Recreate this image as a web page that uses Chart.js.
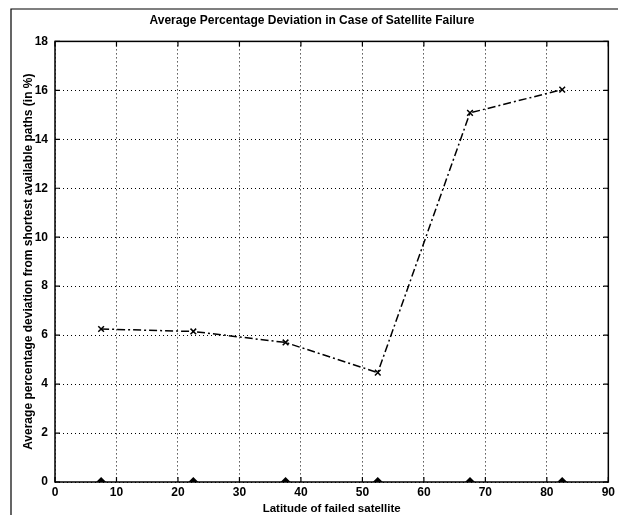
<!DOCTYPE html>
<html>
<head>
<meta charset="utf-8">
<script src="https://cdn.jsdelivr.net/npm/chart.js@4"></script>
<style>
  html, body { margin: 0; padding: 0; background: #fff; }
  #wrap { position: relative; width: 618px; height: 515px; }
</style>
</head>
<body>
<div id="wrap"><canvas id="myChart" width="618" height="515"></canvas></div>
<script>
const latitudes = [7.5, 22.5, 37.5, 52.5, 67.5, 82.5];
const deviation = [6.25, 6.15, 5.7, 4.47, 15.08, 16.03];
const baseline = [0, 0, 0, 0, 0, 0];
const xTicks = [0, 10, 20, 30, 40, 50, 60, 70, 80, 90];
const yTicks = [0, 2, 4, 6, 8, 10, 12, 14, 16, 18];

const fontFamily = '"Liberation Sans", Arial, Helvetica, sans-serif';

// box round the plot, inward ticks on all four sides, outer frame
const boxPlugin = {
    id: 'box',
    afterDraw(chart) {
        const ctx = chart.ctx;
        const a = chart.chartArea;
        const xs = chart.scales.x;
        const ys = chart.scales.y;
        ctx.save();
        ctx.strokeStyle = '#000';
        ctx.lineWidth = 1.5;
        ctx.strokeRect(a.left, a.top, a.right - a.left, a.bottom - a.top);
        ctx.lineWidth = 1.2;
        ctx.beginPath();
        xTicks.forEach(v => {
            const px = xs.getPixelForValue(v);
            ctx.moveTo(px, a.bottom); ctx.lineTo(px, a.bottom - 5);
            ctx.moveTo(px, a.top); ctx.lineTo(px, a.top + 5);
        });
        yTicks.forEach(v => {
            const py = ys.getPixelForValue(v);
            ctx.moveTo(a.left, py); ctx.lineTo(a.left + 5, py);
            ctx.moveTo(a.right, py); ctx.lineTo(a.right - 5, py);
        });
        ctx.stroke();
        // scanned page frame
        ctx.lineWidth = 1.2;
        ctx.beginPath();
        ctx.moveTo(11, 515); ctx.lineTo(11, 9); ctx.lineTo(618, 9);
        ctx.stroke();
        ctx.restore();
    }
};

const ctx = document.getElementById('myChart');
const myChart = new Chart(ctx, {
    type: 'scatter',
    data: {
        datasets: [{
            label: 'Deviation',
            data: latitudes.map((x, i) => ({ x: x, y: deviation[i] })),
            showLine: true,
            borderColor: '#000',
            borderWidth: 1.5,
            borderDash: [8, 3, 2, 3],
            pointStyle: 'crossRot',
            pointRadius: 4,
            pointBorderWidth: 1.5,
            pointBorderColor: '#000',
            pointBackgroundColor: '#000'
        }, {
            label: 'Baseline',
            data: latitudes.map((x, i) => ({ x: x, y: baseline[i] })),
            showLine: false,
            pointStyle: 'rectRot',
            pointRadius: 5,
            pointBorderWidth: 0,
            pointBackgroundColor: '#000',
            clip: 0
        }]
    },
    options: {
        responsive: false,
        animation: false,
        layout: {
            padding: { left: 10, right: 4, top: 7, bottom: 0 }
        },
        scales: {
            x: {
                type: 'linear',
                min: 0,
                max: 90,
                afterBuildTicks: axis => { axis.ticks = xTicks.map(v => ({ value: v })); },
                afterFit: axis => { axis.height = 33; },
                grid: { color: '#000', lineWidth: 1, drawTicks: false },
                border: { display: false, dash: [1, 3] },
                ticks: {
                    color: '#000',
                    padding: 3,
                    font: { family: fontFamily, size: 12, weight: 'bold' }
                },
                title: {
                    display: true,
                    text: 'Latitude of failed satellite',
                    color: '#000',
                    padding: { top: 0, bottom: 0 },
                    font: { family: fontFamily, size: 11.5, weight: 'bold', lineHeight: 1.1 }
                }
            },
            y: {
                type: 'linear',
                min: 0,
                max: 18,
                afterBuildTicks: axis => { axis.ticks = yTicks.map(v => ({ value: v })); },
                afterFit: axis => { axis.width = 45; },
                grid: { color: '#000', lineWidth: 1, drawTicks: false },
                border: { display: false, dash: [1, 3] },
                ticks: {
                    color: '#000',
                    padding: 7,
                    font: { family: fontFamily, size: 12, weight: 'bold' }
                },
                title: {
                    display: true,
                    text: 'Average percentage deviation from shortest available paths (in %)',
                    color: '#000',
                    padding: { top: 11, bottom: 0 },
                    font: { family: fontFamily, size: 12, weight: 'bold' }
                }
            }
        },
        plugins: {
            legend: { display: false },
            tooltip: { enabled: false },
            title: {
                display: true,
                text: 'Average Percentage Deviation in Case of Satellite Failure',
                color: '#000',
                padding: { top: 6, bottom: 14 },
                font: { family: fontFamily, size: 12, weight: 'bold' }
            }
        }
    },
    plugins: [boxPlugin]
});
</script>
</body>
</html>
